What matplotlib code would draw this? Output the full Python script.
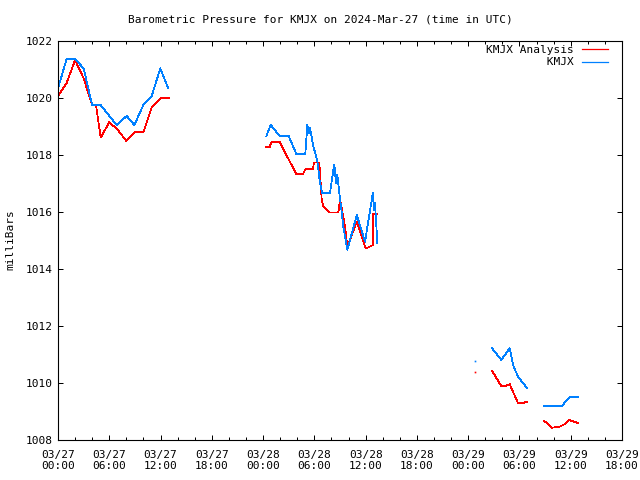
import numpy as np
import matplotlib
matplotlib.use("Agg")
import matplotlib.pyplot as plt
from matplotlib.ticker import MultipleLocator

plt.rcParams['font.family'] = ['DejaVu Sans Mono']

title = "Barometric Pressure for KMJX on 2024-Mar-27 (time in UTC)"
nan = np.nan

# hours since 2024-03-27 00:00 UTC ; nan separates gaps
kmjx_hours = [0.0, 1.0, 2.0, 3.0, 4.0, 5.0, 6.87, 8.04, 8.93, 9.98, 10.97, 11.97, 12.91, nan,
              24.38, 24.89, 25.94, 27.00, 27.89, 28.94, 29.18, 29.34, 29.49, 29.84, 30.35, 30.63,
              30.90, 31.83, 32.22, 32.34, 32.53, 32.69, 32.92, 33.20, 33.39, 33.86, 34.96, 35.14,
              35.93, 36.71, 36.83, 36.98, 37.10, 37.37, nan,
              50.79, 51.88, 52.86, 53.25, 53.83, 54.92, nan,
              56.91, 58.95, 59.84, 60.89]
kmjx_mb = [1020.34, 1021.36, 1021.36, 1021.04, 1019.75, 1019.75, 1019.05, 1019.37, 1019.05, 1019.75,
           1020.07, 1021.04, 1020.34, nan,
           1018.66, 1019.06, 1018.66, 1018.66, 1018.04, 1018.04, 1019.06, 1018.77, 1018.95, 1018.36,
           1017.78, 1017.08, 1016.67, 1016.66, 1017.47, 1017.65, 1017.01, 1017.30, 1016.66, 1016.01,
           1015.48, 1014.67, 1015.89, 1015.72, 1014.96, 1016.42, 1016.66, 1016.07, 1016.32, 1014.90, nan,
           1011.22, 1010.81, 1011.22, 1010.63, 1010.22, 1009.81, nan,
           1009.19, 1009.19, 1009.50, 1009.50]

anal_hours = [0.0, 1.0, 2.0, 3.0, 4.0, 4.45, 5.0, 6.0, 7.0, 8.0, 9.0, 10.0, 11.0, 12.0, 13.0, nan,
              24.38, 24.77, 24.96, 25.94, 27.89, 28.67, 28.99, 29.84, 29.96, 30.58, 30.74, 30.86,
              31.05, 31.83, 32.80, 33.00, 33.20, 33.59, 33.86, 34.96, 35.93, 36.13, 36.83, 36.90,
              37.37, nan,
              50.79, 51.88, 52.27, 52.86, 53.83, 54.36, 54.92, nan,
              56.91, 57.78, 58.75, 59.25, 59.84, 60.89]
anal_mb = [1020.07, 1020.52, 1021.33, 1020.69, 1019.75, 1019.75, 1018.61, 1019.15, 1018.88, 1018.49,
           1018.82, 1018.80, 1019.70, 1019.99, 1019.99, nan,
           1018.27, 1018.27, 1018.45, 1018.45, 1017.33, 1017.33, 1017.52, 1017.52, 1017.74, 1017.74,
           1017.01, 1016.42, 1016.19, 1015.98, 1015.98, 1016.42, 1016.13, 1015.48, 1014.78, 1015.66,
           1014.78, 1014.73, 1014.84, 1015.93, 1015.93, nan,
           1010.43, 1009.89, 1009.89, 1009.96, 1009.29, 1009.29, 1009.35, nan,
           1008.67, 1008.43, 1008.47, 1008.55, 1008.70, 1008.59]

# isolated single observations
single_hours = [48.84]
single_kmjx = [1010.78]
single_anal = [1010.37]

xtick_hours = [0, 6, 12, 18, 24, 30, 36, 42, 48, 54, 60, 66]
xtick_labels = ["03/27\n00:00", "03/27\n06:00", "03/27\n12:00", "03/27\n18:00",
                "03/28\n00:00", "03/28\n06:00", "03/28\n12:00", "03/28\n18:00",
                "03/29\n00:00", "03/29\n06:00", "03/29\n12:00", "03/29\n18:00"]
yticks = [1008, 1010, 1012, 1014, 1016, 1018, 1020, 1022]

red = '#ff0000'
blue = '#0080ff'

fig = plt.figure(figsize=(6.4, 4.8), dpi=100)
ax = fig.add_axes([58/640, 40/480, 564/640, 399/480])

ax.plot(anal_hours, anal_mb, color=red, lw=0.55, antialiased=False, label="KMJX Analysis")
ax.plot(kmjx_hours, kmjx_mb, color=blue, lw=0.55, antialiased=False, label="KMJX".rjust(13))
ax.plot(single_hours, single_anal, color=red, marker='s', ms=1.2, mew=0, ls='none')
ax.plot(single_hours, single_kmjx, color=blue, marker='s', ms=1.2, mew=0, ls='none')

ax.set_xlim(0, 66)
ax.set_ylim(1008, 1022)
ax.set_xticks(xtick_hours)
ax.set_xticklabels(xtick_labels)
ax.xaxis.set_minor_locator(MultipleLocator(2))
ax.set_yticks(yticks)
ax.set_yticklabels([str(v) for v in yticks])

ax.tick_params(which='both', direction='in', top=True, right=True, labelsize=8, width=0.72, color='black')
ax.tick_params(axis='x', which='major', length=3.5, pad=7)
ax.tick_params(axis='x', which='minor', length=2)
ax.tick_params(axis='y', which='major', length=3.5, pad=4)
for s in ax.spines.values():
    s.set_linewidth(0.8)
    s.set_color('black')

fig.text(0.5, 1 - 19/480, title, ha='center', va='center', fontsize=8)
fig.text(10/640, 1 - 240/480, "milliBars", rotation=90, ha='center', va='center', fontsize=8)

leg = ax.legend(loc='upper right', bbox_to_anchor=(1 - 7/564, 1 + 3/399), frameon=False,
                markerfirst=False, fontsize=8,
                handlelength=2.4, handletextpad=0.7, labelspacing=0.25,
                borderaxespad=0.3, borderpad=0.3)
for h in leg.get_lines():
    h.set_linewidth(0.9)

fig.savefig("out.png", dpi=100)
